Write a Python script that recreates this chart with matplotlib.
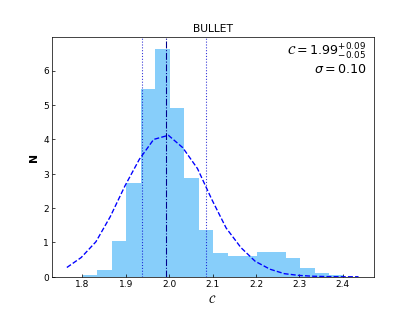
import numpy as np
import matplotlib
matplotlib.use("Agg")
import matplotlib.pyplot as plt

# Histogram (normalised counts)
bin_start = 1.801
bin_width = 0.03336
bar_heights = [0.05, 0.21, 1.04, 2.74, 5.47, 6.63, 4.91, 2.89, 1.36, 0.69,
               0.60, 0.61, 0.72, 0.71, 0.54, 0.25, 0.11, 0.04]

# Dashed comparison curve
curve_x = [1.764, 1.797, 1.831, 1.864, 1.898, 1.931, 1.964, 1.998, 2.031, 2.065,
           2.098, 2.131, 2.165, 2.198, 2.232, 2.265, 2.298, 2.332, 2.365, 2.399, 2.436]
curve_y = [0.27, 0.56, 1.02, 1.75, 2.65, 3.42, 4.00, 4.12, 3.76, 3.15,
           2.25, 1.42, 0.85, 0.45, 0.22, 0.09, 0.04, 0.015, 0.005, 0.0, 0.0]

c_med = 1.993
c_lo = 1.937
c_hi = 2.085

edges = bin_start + bin_width * np.arange(len(bar_heights) + 1)

fig = plt.figure(figsize=(6.4, 4.8), dpi=415 / 6.4)
ax = fig.add_subplot(111)

ax.bar(edges[:-1], bar_heights, width=bin_width, align='edge',
       color='lightskyblue', edgecolor='none', linewidth=0)
ax.plot(curve_x, curve_y, '--', color='blue', lw=1.5)
ax.axvline(c_med, color='darkblue', ls='-.', lw=1.2)
ax.axvline(c_lo, color='mediumblue', ls=':', lw=1.2, alpha=0.8)
ax.axvline(c_hi, color='mediumblue', ls=':', lw=1.2, alpha=0.8)

ax.set_xlim(1.7295, 2.4705)
ax.set_ylim(0, 6.98)
ax.set_xticks([1.8, 1.9, 2.0, 2.1, 2.2, 2.3, 2.4])
ax.set_yticks([0, 1, 2, 3, 4, 5, 6])
ax.tick_params(direction='in')

ax.set_title('BULLET', fontsize=12)
ax.set_xlabel(r'$\mathcal{C}$', fontsize=12)
ax.set_ylabel('N', fontsize=12, fontweight='bold')

ax.text(0.978, 0.983, r'$\mathcal{C} = 1.99^{+0.09}_{-0.05}$',
        transform=ax.transAxes, ha='right', va='top', fontsize=14)
ax.text(0.978, 0.895, r'$\sigma = 0.10$',
        transform=ax.transAxes, ha='right', va='top', fontsize=14)

fig.savefig('out.png', dpi=415 / 6.4)
